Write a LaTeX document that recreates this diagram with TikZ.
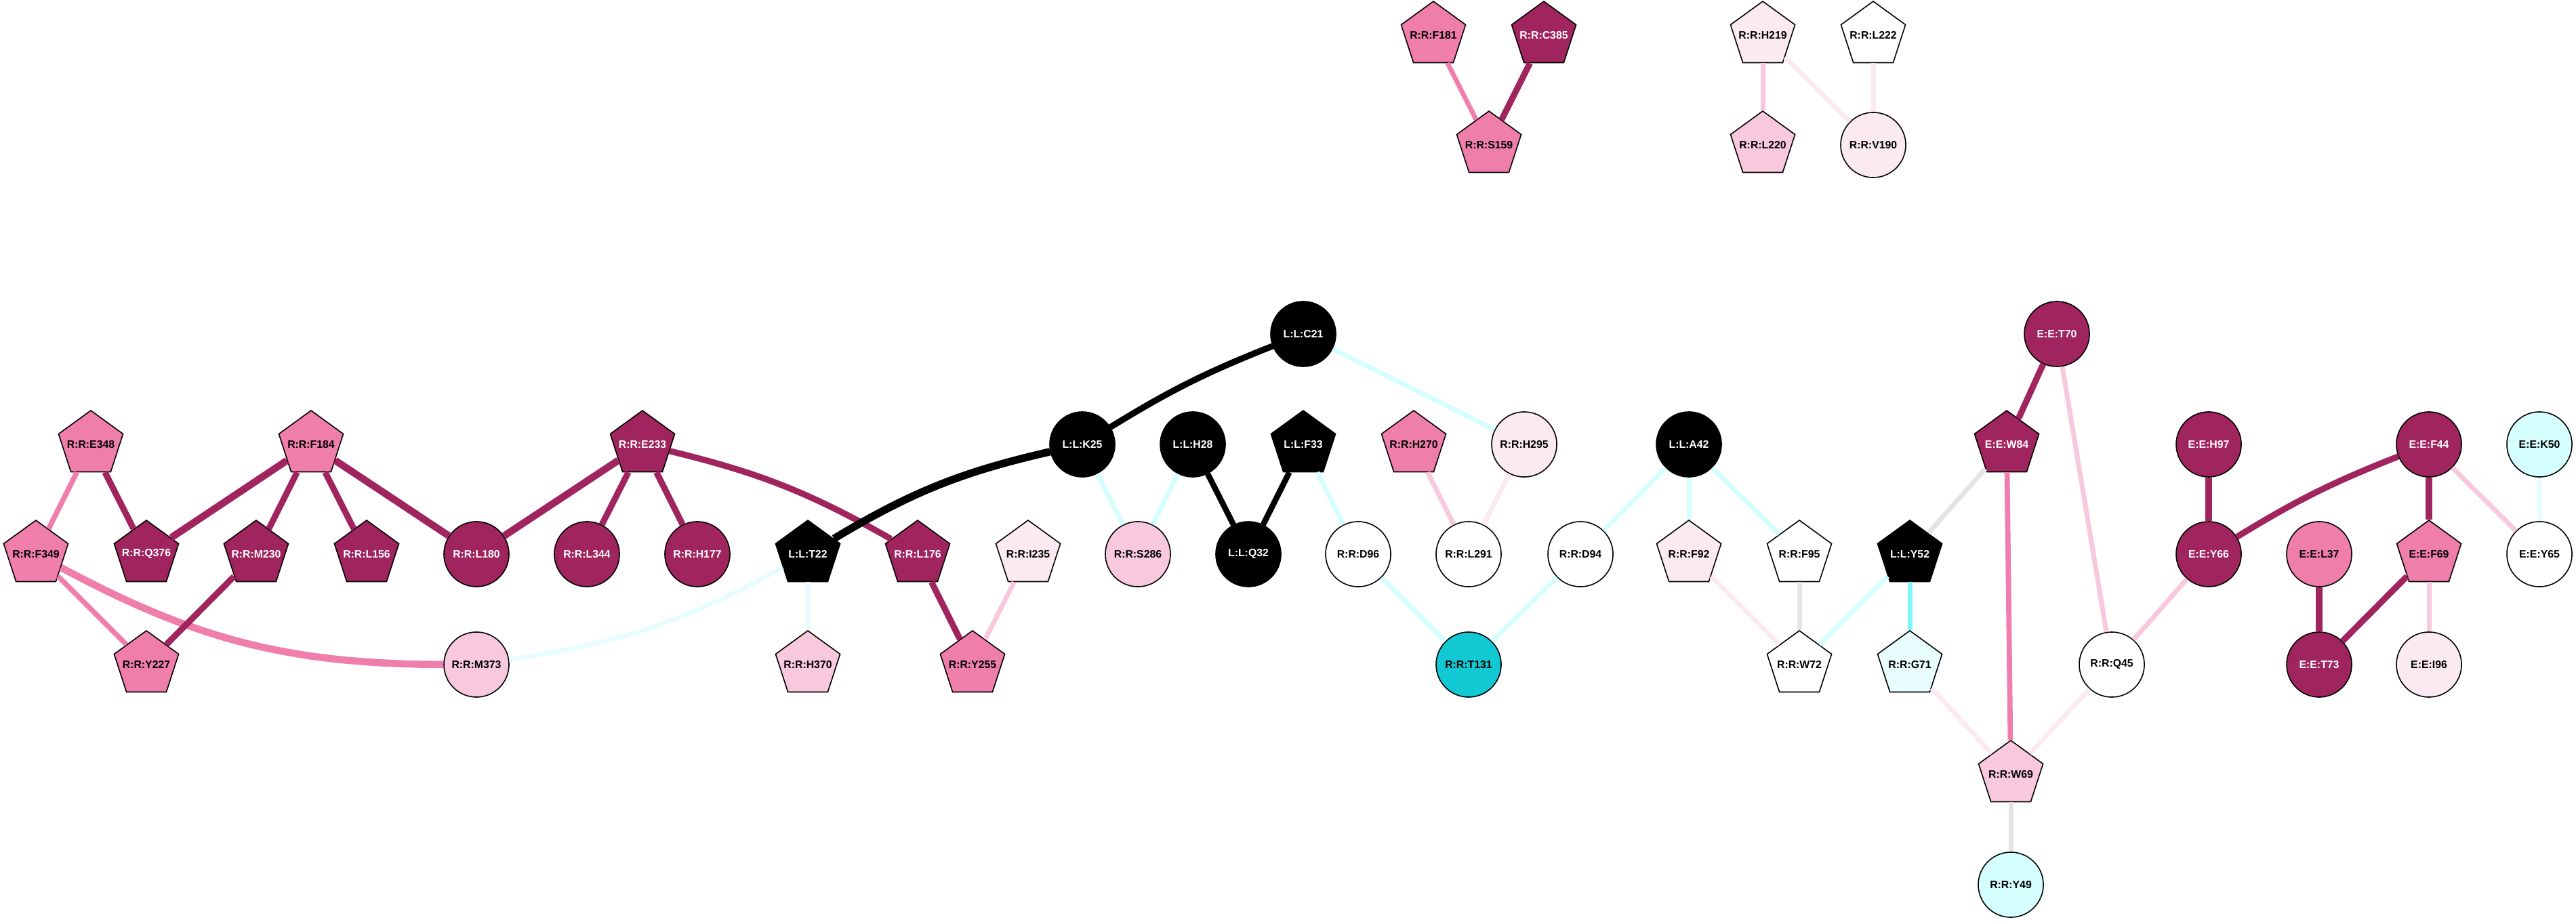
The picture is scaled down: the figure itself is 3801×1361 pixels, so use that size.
\documentclass[tikz,border=0pt]{standalone}
\usepackage{fontspec}
\setmainfont{Liberation Sans}
\usetikzlibrary{shapes.geometric}

\definecolor{dkmag}{RGB}{160,36,94}
\definecolor{pkmag}{RGB}{240,126,170}
\definecolor{ltpink}{RGB}{248,200,220}
\definecolor{palepink}{RGB}{251,234,242}
\definecolor{tcyan}{RGB}{18,200,210}
\definecolor{ltcyan}{RGB}{213,254,254}
\definecolor{palecyan}{RGB}{232,254,254}
\definecolor{midcyan}{RGB}{128,248,248}
\definecolor{edgegray}{RGB}{228,228,228}

% label of fixed (zero) width, so the shape keeps its own size
\newcommand{\resname}[1]{\makebox[0pt]{#1}}

\begin{document}
\begin{tikzpicture}[x=0.01cm, y=-0.01cm,
    res/.style={draw=black, line width=0.45pt, inner sep=0pt,
      font=\fontsize{4.5}{5}\selectfont\bfseries},
    rc/.style={res, circle, minimum size=0.96cm},
    rp/.style={res, regular polygon, regular polygon sides=5, minimum size=1.0cm},
    dk/.style={fill=dkmag, text=white},
    bk/.style={fill=black, text=white},
    pk/.style={fill=pkmag},
    lp/.style={fill=ltpink},
    vp/.style={fill=palepink},
    wh/.style={fill=white},
    cy/.style={fill=tcyan},
    lc/.style={fill=ltcyan},
    vc/.style={fill=palecyan},
    link/.style={line width=2.6pt},
    thin link/.style={line width=2pt}
  ]
  \useasboundingbox (0,0) rectangle (3801,1361);

  % top groups
  \node[rp, pk] (f181) at (2115,52) {\resname{R:R:F181}};
  \node[rp, dk] (c385) at (2278,52) {\resname{R:R:C385}};
  \node[rp, pk] (s159) at (2197,214) {\resname{R:R:S159}};
  \node[rp, vp] (h219) at (2601,52) {\resname{R:R:H219}};
  \node[rp, wh] (l222) at (2764,52) {\resname{R:R:L222}};
  \node[rp, lp] (l220) at (2601,214) {\resname{R:R:L220}};
  \node[rc, vp] (v190) at (2764,214) {\resname{R:R:V190}};

  \node[rc, bk] (c21) at (1923,493) {\resname{L:L:C21}};
  \node[rc, dk] (t70) at (3035,493) {\resname{E:E:T70}};

  \node[rp, pk] (e348) at (134,656) {\resname{R:R:E348}};
  \node[rp, pk] (f184) at (459,656) {\resname{R:R:F184}};
  \node[rp, dk] (e233) at (948,656) {\resname{R:R:E233}};
  \node[rc, bk] (k25) at (1597,656) {\resname{L:L:K25}};
  \node[rc, bk] (h28) at (1760,656) {\resname{L:L:H28}};
  \node[rp, bk] (f33) at (1923,656) {\resname{L:L:F33}};
  \node[rp, pk] (h270) at (2086,656) {\resname{R:R:H270}};
  \node[rc, vp] (h295) at (2249,656) {\resname{R:R:H295}};
  \node[rc, bk] (a42) at (2492,656) {\resname{L:L:A42}};
  \node[rp, dk] (w84) at (2961,656) {\resname{E:E:W84}};
  \node[rc, dk] (h97) at (3259,656) {\resname{E:E:H97}};
  \node[rc, dk] (f44) at (3584,656) {\resname{E:E:F44}};
  \node[rc, lc] (k50) at (3747,656) {\resname{E:E:K50}};

  \node[rp, pk] (f349) at (53,818) {\resname{R:R:F349}};
  \node[rp, dk] (q376) at (216,818) {\resname{R:R:Q376}};
  \node[rp, dk] (m230) at (378,818) {\resname{R:R:M230}};
  \node[rp, dk] (l156) at (541,818) {\resname{R:R:L156}};
  \node[rc, dk] (l180) at (703,818) {\resname{R:R:L180}};
  \node[rc, dk] (l344) at (866,818) {\resname{R:R:L344}};
  \node[rc, dk] (h177) at (1029,818) {\resname{R:R:H177}};
  \node[rp, bk] (t22) at (1192,818) {\resname{L:L:T22}};
  \node[rp, dk] (l176) at (1354,818) {\resname{R:R:L176}};
  \node[rp, vp] (i235) at (1517,818) {\resname{R:R:I235}};
  \node[rc, lp] (s286) at (1679,818) {\resname{R:R:S286}};
  \node[rc, bk] (q32) at (1842,818) {\resname{L:L:Q32}};
  \node[rc, wh] (d96) at (2004,818) {\resname{R:R:D96}};
  \node[rc, wh] (l291) at (2167,818) {\resname{R:R:L291}};
  \node[rc, wh] (d94) at (2332,818) {\resname{R:R:D94}};
  \node[rp, vp] (f92) at (2492,818) {\resname{R:R:F92}};
  \node[rp, wh] (f95) at (2655,818) {\resname{R:R:F95}};
  \node[rp, bk] (y52) at (2818,818) {\resname{L:L:Y52}};
  \node[rc, dk] (y66) at (3259,818) {\resname{E:E:Y66}};
  \node[rc, pk] (l37) at (3422,818) {\resname{E:E:L37}};
  \node[rp, pk] (f69) at (3584,818) {\resname{E:E:F69}};
  \node[rc, wh] (y65) at (3747,818) {\resname{E:E:Y65}};

  \node[rp, pk] (y227) at (216,981) {\resname{R:R:Y227}};
  \node[rc, lp] (m373) at (703,981) {\resname{R:R:M373}};
  \node[rp, lp] (h370) at (1192,981) {\resname{R:R:H370}};
  \node[rp, pk] (y255) at (1435,981) {\resname{R:R:Y255}};
  \node[rc, cy] (t131) at (2167,981) {\resname{R:R:T131}};
  \node[rp, wh] (w72) at (2655,981) {\resname{R:R:W72}};
  \node[rp, vc] (g71) at (2818,981) {\resname{R:R:G71}};
  \node[rc, wh] (q45) at (3116,981) {\resname{R:R:Q45}};
  \node[rc, dk] (t73) at (3422,981) {\resname{E:E:T73}};
  \node[rc, vp] (i96) at (3584,981) {\resname{E:E:I96}};

  \node[rp, lp] (w69) at (2967,1143) {\resname{R:R:W69}};
  \node[rc, lc] (y49) at (2967,1306) {\resname{R:R:Y49}};

  % links
  \draw[thin link, pkmag] (f181) -- (s159);
  \draw[link, dkmag] (c385) -- (s159);
  \draw[thin link, ltpink] (h219) -- (l220);
  \draw[thin link, palepink] (h219) -- (v190);
  \draw[thin link, palepink] (l222) -- (v190);

  \draw[link, pkmag, line width=2.2pt] (e348) -- (f349);
  \draw[link, dkmag] (e348) -- (q376);
  \draw[link, dkmag, line width=3pt] (f184) -- (q376);
  \draw[link, dkmag] (f184) -- (m230);
  \draw[link, dkmag] (f184) -- (l156);
  \draw[link, dkmag, line width=3pt] (f184) -- (l180);
  \draw[link, dkmag, line width=3pt] (e233) -- (l180);
  \draw[link, dkmag] (e233) -- (l344);
  \draw[link, dkmag] (e233) -- (h177);
  \draw[link, pkmag, line width=2.2pt] (f349) -- (y227);
  \draw[link, pkmag, line width=3pt] (f349) to[bend right=14] (m373);
  \draw[link, dkmag] (m230) -- (y227);
  \draw[thin link, palecyan] (m373) to[bend right=10] (t22);
  \draw[link, dkmag] (e233) to[bend left=8] (l176);
  \draw[link, black] (c21) to[bend right=5] (k25);
  \draw[link, black, line width=3.2pt] (k25) to[bend right=9] (t22);
  \draw[thin link, ltcyan] (c21) -- (h295);
  \draw[thin link, ltcyan] (k25) -- (s286);
  \draw[thin link, ltcyan] (h28) -- (s286);
  \draw[link, black, line width=2.4pt] (h28) -- (q32);
  \draw[link, black, line width=2.4pt] (f33) -- (q32);
  \draw[thin link, ltcyan] (f33) -- (d96);
  \draw[thin link, ltpink] (h270) -- (l291);
  \draw[thin link, palepink] (h295) -- (l291);
  \draw[thin link, palecyan] (t22) -- (h370);
  \draw[link, dkmag] (l176) -- (y255);
  \draw[thin link, ltpink] (i235) -- (y255);
  \draw[thin link, ltcyan] (d96) -- (t131);
  \draw[thin link, ltcyan] (d94) -- (t131);

  \draw[thin link, ltcyan] (a42) -- (d94);
  \draw[thin link, ltcyan] (a42) -- (f92);
  \draw[thin link, ltcyan] (a42) -- (f95);
  \draw[thin link, palepink] (f92) -- (w72);
  \draw[thin link, edgegray] (f95) -- (w72);
  \draw[thin link, ltcyan] (y52) -- (w72);
  \draw[thin link, midcyan] (y52) -- (g71);
  \draw[thin link, edgegray] (w84) -- (y52);
  \draw[link, dkmag] (t70) -- (w84);
  \draw[link, pkmag, line width=2.2pt] (w84) -- (w69);
  \draw[thin link, ltpink] (t70) -- (q45);
  \draw[thin link, ltpink] (q45) -- (y66);
  \draw[thin link, palepink] (g71) -- (w69);
  \draw[thin link, palepink] (q45) -- (w69);
  \draw[thin link, edgegray] (w69) -- (y49);
  \draw[link, dkmag] (h97) -- (y66);
  \draw[link, dkmag] (f44) to[bend right=5] (y66);
  \draw[link, dkmag] (f44) -- (f69);
  \draw[thin link, ltpink] (f44) -- (y65);
  \draw[thin link, palecyan] (k50) -- (y65);
  \draw[link, dkmag] (l37) -- (t73);
  \draw[link, dkmag] (f69) -- (t73);
  \draw[thin link, ltpink] (f69) -- (i96);
\end{tikzpicture}
\end{document}
